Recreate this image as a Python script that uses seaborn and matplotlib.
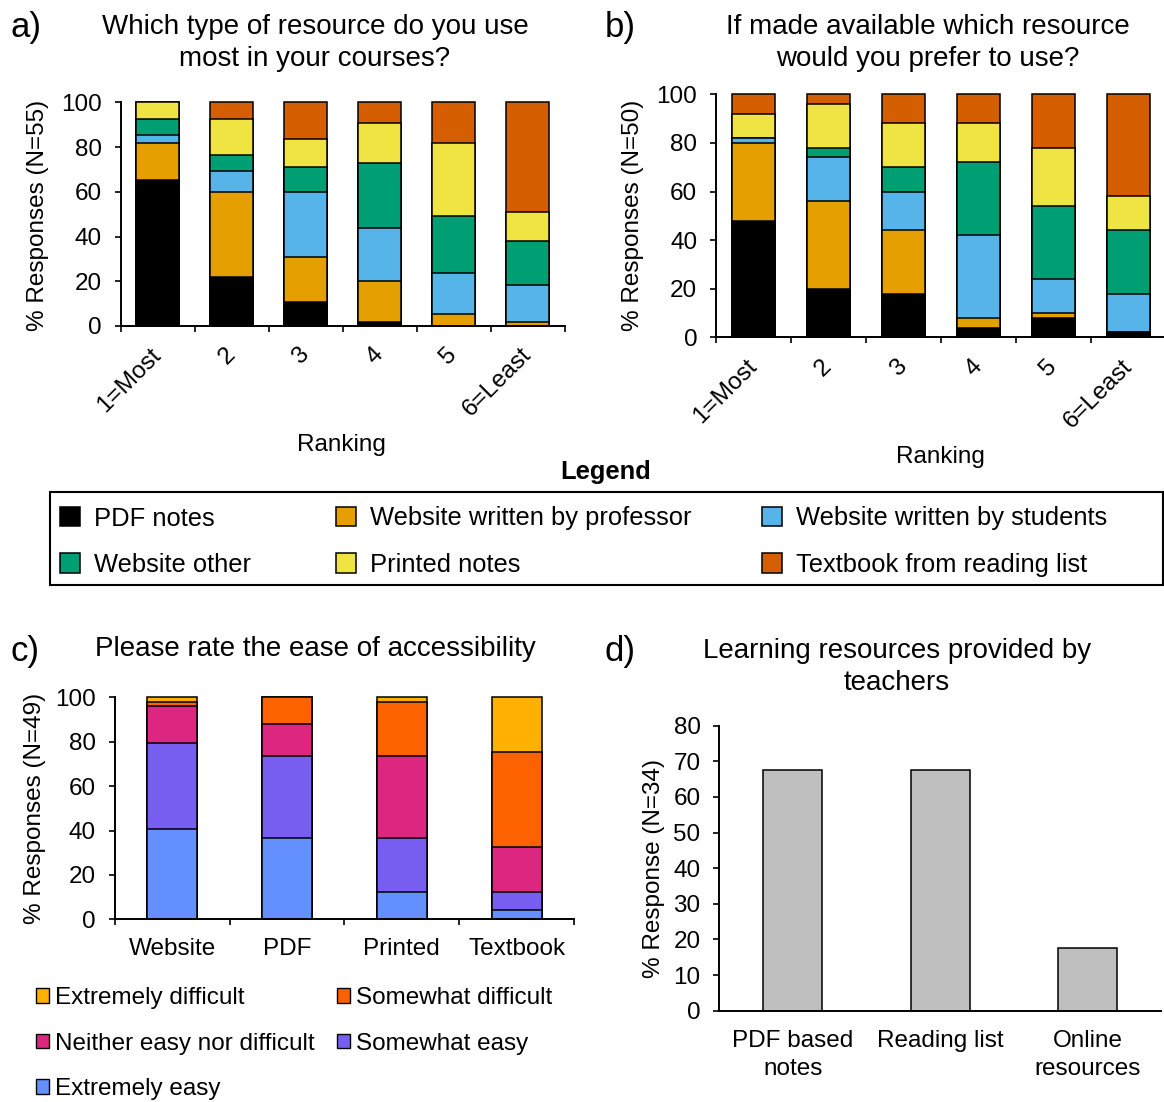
import numpy as np
import matplotlib
matplotlib.use("Agg")
import matplotlib.pyplot as plt
import seaborn as sns
from matplotlib.patches import Patch, Rectangle

# ---------------- data ----------------
rankings = ["1=Most", "2", "3", "4", "5", "6=Least"]
resource_types = ["PDF notes", "Website written by professor", "Website written by students",
                  "Website other", "Printed notes", "Textbook from reading list"]
resource_colors = ["#000000", "#E69F00", "#56B4E9", "#009E73", "#F0E442", "#D55E00"]

# panel a: % per ranking (N=55)
a_pdf = [65.45, 21.82, 10.91, 1.82, 0.0, 0.0]
a_prof = [16.36, 38.18, 20.00, 18.18, 5.45, 1.82]
a_students = [3.64, 9.09, 29.09, 23.64, 18.18, 16.36]
a_other = [7.27, 7.27, 10.91, 29.09, 25.45, 20.00]
a_printed = [7.27, 16.36, 12.73, 18.18, 32.73, 12.73]
a_textbook = [0.0, 7.27, 16.36, 9.09, 18.18, 49.09]

# panel b: % per ranking (N=50)
b_pdf = [48, 20, 18, 4, 8, 2]
b_prof = [32, 36, 26, 4, 2, 0]
b_students = [2, 18, 16, 34, 14, 16]
b_other = [0, 4, 10, 30, 30, 26]
b_printed = [10, 18, 18, 16, 24, 14]
b_textbook = [8, 4, 12, 12, 22, 42]

# panel c: ease of accessibility (N=49)
c_formats = ["Website", "PDF", "Printed", "Textbook"]
ease_levels = ["Extremely easy", "Somewhat easy", "Neither easy nor difficult",
               "Somewhat difficult", "Extremely difficult"]
ease_colors = ["#648FFF", "#785EF0", "#DC267F", "#FE6100", "#FFB000"]
c_ext_easy = [40.82, 36.73, 12.24, 4.08]
c_some_easy = [38.78, 36.73, 24.49, 8.16]
c_neither = [16.33, 14.29, 36.73, 20.41]
c_some_diff = [2.04, 12.24, 24.49, 42.86]
c_ext_diff = [2.04, 0.0, 2.04, 24.49]

# panel d: resources provided by teachers (N=34)
d_resources = ["PDF based\nnotes", "Reading list", "Online\nresources"]
d_values = [67.6, 67.6, 17.6]

# ---------------- style ----------------
sns.set_style("ticks")
plt.rcParams["font.family"] = ["Liberation Sans", "DejaVu Sans"]
for key in ["text.color", "axes.labelcolor", "xtick.color", "ytick.color", "axes.edgecolor"]:
    plt.rcParams[key] = "black"
FS = 17.5

W, H = 1164, 1102
fig = plt.figure(figsize=(W / 100, H / 100), dpi=100)


def px_axes(x0, x1, y_top, y_bot):
    return fig.add_axes([x0 / W, 1 - y_bot / H, (x1 - x0) / W, (y_bot - y_top) / H])


def style(ax):
    sns.despine(ax=ax)
    for s in ["left", "bottom"]:
        ax.spines[s].set_linewidth(1.4)
        ax.spines[s].set_color("black")
    ax.tick_params(axis="both", which="major", length=4.5, width=1.2,
                   labelsize=FS, color="black", labelcolor="black")
    ax.tick_params(axis="y", pad=9)


def stacked(ax, cats, layers, colors, width):
    cum = np.cumsum(np.array(layers, dtype=float), axis=0)
    for k in range(len(layers) - 1, -1, -1):
        sns.barplot(x=cats, y=cum[k], order=cats, color=colors[k], width=width,
                    edgecolor="black", linewidth=1.1, saturation=1, errorbar=None,
                    ax=ax, clip_on=False)


def category_boundary_ticks(ax, cats, rotate, pad):
    n = len(cats)
    ax.set_xlim(-0.5, n - 0.5)
    ax.set_xticks(np.arange(-0.5, n, 1.0))
    ax.set_xticklabels([])
    ax.set_xticks(np.arange(n), minor=True)
    if rotate:
        ax.set_xticklabels(cats, minor=True, rotation=45, ha="right", va="center",
                           rotation_mode="anchor")
    else:
        ax.set_xticklabels(cats, minor=True)
    ax.tick_params(axis="x", which="minor", length=0, pad=pad, labelsize=FS,
                   labelcolor="black")


# ---------------- panel a ----------------
ax_a = px_axes(120.7, 564.7, 102.3, 326.0)
stacked(ax_a, rankings, [a_pdf, a_prof, a_students, a_other, a_printed, a_textbook],
        resource_colors, 0.58)
style(ax_a)
ax_a.set_ylim(0, 100)
ax_a.set_yticks(range(0, 101, 20))
category_boundary_ticks(ax_a, rankings, True, 18.5)
ax_a.set_ylabel("% Responses (N=55)", fontsize=FS, va="center")
ax_a.yaxis.set_label_coords(-0.186, 0.496)
ax_a.set_xlabel("Ranking", fontsize=FS, va="center")
ax_a.xaxis.set_label_coords(0.498, -0.530)

# ---------------- panel b ----------------
ax_b = px_axes(716.0, 1166.0, 94.3, 337.3)
stacked(ax_b, rankings, [b_pdf, b_prof, b_students, b_other, b_printed, b_textbook],
        resource_colors, 0.58)
style(ax_b)
ax_b.set_ylim(0, 100)
ax_b.set_yticks(range(0, 101, 20))
category_boundary_ticks(ax_b, rankings, True, 18.5)
ax_b.set_ylabel("% Responses (N=50)", fontsize=FS, va="center")
ax_b.yaxis.set_label_coords(-0.184, 0.503)
ax_b.set_xlabel("Ranking", fontsize=FS, va="center")
ax_b.xaxis.set_label_coords(0.498, -0.494)

# ---------------- panel c ----------------
ax_c = px_axes(114.7, 574.0, 697.3, 919.3)
stacked(ax_c, c_formats, [c_ext_easy, c_some_easy, c_neither, c_some_diff, c_ext_diff],
        ease_colors, 0.435)
style(ax_c)
ax_c.set_ylim(0, 100)
ax_c.set_yticks(range(0, 101, 20))
category_boundary_ticks(ax_c, c_formats, False, 13.5)
ax_c.set_ylabel("% Responses (N=49)", fontsize=FS, va="center")
ax_c.yaxis.set_label_coords(-0.174, 0.501)
ax_c.set_xlabel("")

# ---------------- panel d ----------------
ax_d = px_axes(719.3, 1161.2, 725.7, 1010.7)
sns.barplot(x=d_resources, y=d_values, order=d_resources, color="#BFBFBF", width=0.40,
            edgecolor="black", linewidth=1.1, saturation=1, errorbar=None, ax=ax_d)
style(ax_d)
ax_d.set_ylim(0, 80)
ax_d.set_xlim(-0.5, 2.5)
ax_d.set_yticks(range(0, 81, 10))
ax_d.tick_params(axis="x", length=0, pad=14)
for t in ax_d.get_xticklabels():
    t.set_linespacing(1.35)
ax_d.set_ylabel("% Response (N=34)", fontsize=FS, va="center")
ax_d.yaxis.set_label_coords(-0.148, 0.5)
ax_d.set_xlabel("")

# ---------------- titles and panel letters ----------------
TFS = 20
fig.text(315 / W, 1 - 43 / H, "Which type of resource do you use\nmost in your courses?",
         ha="center", va="center", fontsize=TFS, linespacing=1.32)
fig.text(928 / W, 1 - 43 / H, "If made available which resource\nwould you prefer to use?",
         ha="center", va="center", fontsize=TFS, linespacing=1.32)
fig.text(315 / W, 1 - 649 / H, "Please rate the ease of accessibility",
         ha="center", va="center", fontsize=TFS)
fig.text(897 / W, 1 - 667 / H, "Learning resources provided by\nteachers",
         ha="center", va="center", fontsize=TFS, linespacing=1.32)
for lbl, x, y in [("a)", 10, 27), ("b)", 605, 27), ("c)", 10, 651), ("d)", 605, 651)]:
    fig.text(x / W, 1 - y / H, lbl, ha="left", va="center", fontsize=25)

# ---------------- main legend (one legend per column for exact placement) ----------------
fig.text(606 / W, 1 - 472 / H, "Legend", ha="center", va="center",
         fontsize=18.4, fontweight="bold")
fig.patches.append(Rectangle((50 / W, 1 - 585 / H), 1113 / W, 93 / H, transform=fig.transFigure,
                             fill=False, edgecolor="black", linewidth=1.5))
res_handles = [Patch(facecolor=c, edgecolor="black", linewidth=1.1) for c in resource_colors]
columns = [[0, 3], [1, 4], [2, 5]]
col_x = [60, 336, 762]
for idxs, cx in zip(columns, col_x):
    fig.legend([res_handles[i] for i in idxs], [resource_types[i] for i in idxs],
               loc="upper left", bbox_to_anchor=(cx / W, 1 - 506.5 / H), ncol=1,
               frameon=False, fontsize=18.4, handlelength=0.8, handleheight=0.8,
               handletextpad=0.52, labelspacing=0.88,
               borderpad=0, borderaxespad=0)

# ---------------- panel c legend ----------------
ease_handles = [Patch(facecolor=c, edgecolor="black", linewidth=1.0) for c in ease_colors]
c_order = [4, 2, 0, 3, 1]
fig.legend([ease_handles[i] for i in c_order], [ease_levels[i] for i in c_order],
           loc="upper left", bbox_to_anchor=(36 / W, 1 - 987 / H), ncol=2,
           frameon=False, fontsize=17.5, handlelength=0.55, handleheight=0.55,
           handletextpad=0.25, columnspacing=0.9, labelspacing=0.975,
           borderpad=0, borderaxespad=0)

fig.savefig("out.png", dpi=100)
